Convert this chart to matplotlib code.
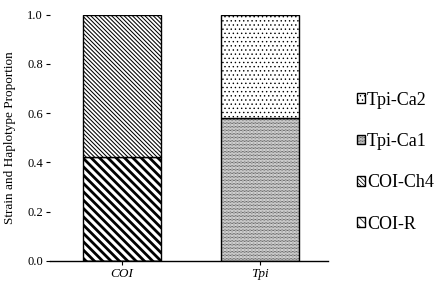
import matplotlib
matplotlib.use('Agg')
import matplotlib.pyplot as plt
import numpy as np

# data
genes = ['COI', 'Tpi']
coi_r = [0.42, 0.0]
coi_ch4 = [0.58, 0.0]
tpi_ca1 = [0.0, 0.58]
tpi_ca2 = [0.0, 0.42]
yticks = [0.0, 0.2, 0.4, 0.6, 0.8, 1.0]

plt.rcParams['font.family'] = ['Liberation Serif', 'DejaVu Serif']
plt.rcParams['hatch.color'] = 'black'

fig = plt.figure(figsize=(4.39, 2.82), dpi=100)
ax = fig.add_axes([0.114, 0.0745, 0.633, 0.874])

x = np.arange(len(genes))
w = 0.565

def stack(vals, bottom, hatch, hlw, label):
    plt.rcParams['hatch.linewidth'] = hlw
    bars = ax.bar(x, vals, w, bottom=bottom, color='white', edgecolor='black',
                  linewidth=1.0, hatch=hatch, label=label)
    for b in bars:
        if hasattr(b, 'set_hatch_linewidth'):
            b.set_hatch_linewidth(hlw)
    return bars

b1 = stack(coi_r, None, '\\' * 4, 2.0, 'COI-R')
b2 = stack(coi_ch4, coi_r, '\\' * 8, 0.75, 'COI-Ch4')
b3 = stack(tpi_ca1, None, '.' * 12, 0.45, 'Tpi-Ca1')
b4 = stack(tpi_ca2, tpi_ca1, '.' * 4, 0.5, 'Tpi-Ca2')

ax.set_xlim(-0.52, 1.49)
ax.set_ylim(0, 1.0)
ax.set_yticks(yticks)
ax.set_yticklabels(['%.1f' % v for v in yticks], fontsize=9)
ax.set_xticks(x)
ax.set_xticklabels(genes, fontsize=9.5, style='italic')
ax.set_ylabel('Strain and Haplotype Proportion', fontsize=9.5, labelpad=8)
for s in ['top', 'right', 'left']:
    ax.spines[s].set_visible(False)
ax.spines['bottom'].set_linewidth(1.0)
ax.tick_params(direction='out', length=3, width=0.8, pad=2)

h, l = ax.get_legend_handles_labels()
leg = fig.legend(h[::-1], l[::-1], loc='center left', bbox_to_anchor=(0.797, 0.425),
                 frameon=False, fontsize=13, handlelength=0.45, handleheight=0.45,
                 handletextpad=0.1, labelspacing=1.35, borderaxespad=0)

plt.savefig('out.png', dpi=100)
plt.close()
